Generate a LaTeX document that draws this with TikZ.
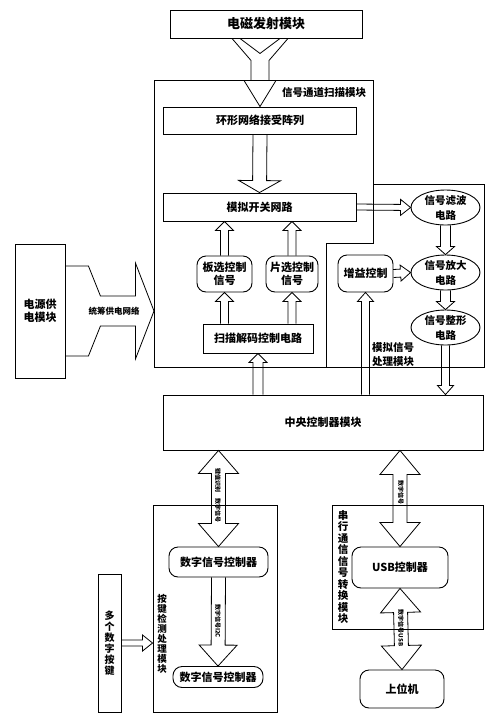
\documentclass[tikz,border=0pt]{standalone}
\usepackage{fontspec}
\setmainfont{Noto Sans CJK SC}
\usepackage{tikz}
\usetikzlibrary{calc,shapes.geometric}

\tikzset{
        box/.style={draw, line width=0.9pt, inner sep=2pt, align=center, font=\bfseries\fontsize{11}{13.5}\selectfont},
        rbox/.style={box, rounded corners=9pt},
        oval/.style={box, ellipse, inner xsep=0pt, inner ysep=-4pt, font=\bfseries\fontsize{10.5}{15}\selectfont},
        frame/.style={line width=0.9pt},
        arrowline/.style={line width=0.8pt, line join=miter},
        tag/.style={font=\bfseries\fontsize{10.5}{14}\selectfont, inner sep=0pt, align=center},
        tiny/.style={font=\bfseries\fontsize{6}{6}\selectfont, inner sep=0pt, rotate=-90},
}

\newcommand{\hollowarrow}[5]{%
        \path (#1) coordinate (ha) (#2) coordinate (hz);
        \path ($(hz)!#5!(ha)$) coordinate (hb);
        \draw[arrowline] ($(ha)!#3!90:(hz)$) -- ($(hb)!#3!90:(hz)$) -- ($(hb)!#4!90:(hz)$) -- (hz)
                -- ($(hb)!#4!-90:(hz)$) -- ($(hb)!#3!-90:(hz)$) -- ($(ha)!#3!-90:(hz)$);
}
\newcommand{\bothhollow}[5]{%
        \path (#1) coordinate (ha) (#2) coordinate (hz);
        \path ($(ha)!#5!(hz)$) coordinate (hs) ($(hz)!#5!(ha)$) coordinate (hb);
        \draw[arrowline] (ha) -- ($(hs)!#4!90:(hz)$) -- ($(hs)!#3!90:(hz)$) -- ($(hb)!#3!90:(hz)$)
                -- ($(hb)!#4!90:(hz)$) -- (hz) -- ($(hb)!#4!-90:(hz)$) -- ($(hb)!#3!-90:(hz)$)
                -- ($(hs)!#3!-90:(hz)$) -- ($(hs)!#4!-90:(hz)$) -- cycle;
}

\begin{document}
\begin{tikzpicture}[x=1pt, y=-1pt]
        \useasboundingbox (0,0) rectangle (500,721);

        % top part
        \node[box, minimum width=192pt, minimum height=28pt, font=\bfseries\fontsize{13}{15}\selectfont] (emit) at (266,24) {电磁发射模块};
        \draw[frame] (154,80) -- (373,80) -- (373,243) -- (326,243) -- (326,367) -- (154,367) -- cycle;
        \draw[frame] (373,184) -- (484,184) -- (484,367) -- (326,367);
        \node[tag] (scanlbl) at (324,93) {信号通道扫描模块};
        \node[tag, align=left] (analoglbl) at (393,355) {模拟信号\\处理模块};

        \node[box, minimum width=193pt, minimum height=27pt] (ring) at (260,120.5) {环形网络接受阵列};
        \node[box, minimum width=193pt, minimum height=28pt] (switch) at (259.5,207) {模拟开关网路};
        \node[rbox, minimum width=55pt, minimum height=36pt] (board) at (224.5,274) {板选控制\\信号};
        \node[rbox, minimum width=52pt, minimum height=36pt] (chip) at (292,274) {片选控制\\信号};
        \node[box, minimum width=110pt, minimum height=29pt] (decode) at (258,338.5) {扫描解码控制电路};
        \node[rbox, minimum width=55pt, minimum height=37pt] (gain) at (365.5,273.5) {增益控制};
        \node[oval, minimum width=69pt, minimum height=35pt] (filter) at (445.5,207.5) {信号滤波\\电路};
        \node[oval, minimum width=69pt, minimum height=35pt] (amp) at (445.5,272.5) {信号放大\\电路};
        \node[oval, minimum width=69pt, minimum height=35pt] (shaper) at (445.5,327.5) {信号整形\\电路};

        % power supply
        \node[box, minimum width=50pt, minimum height=134pt] (power) at (40,311) {电源供\\电模块};
        \coordinate (scanw) at (154,311);
        \draw[arrowline] ($(power.east)+(0,-45)$) -- ($(power.east)+(23,-45)$) -- ($(power.east)+(35,-15)$)
                -- ($(power.east)+(70,-15)$) -- ($(power.east)+(70,-48)$) -- (scanw)
                -- ($(power.east)+(70,48)$) -- ($(power.east)+(70,15)$) -- ($(power.east)+(35,15)$)
                -- ($(power.east)+(23,45)$) -- ($(power.east)+(0,45)$);
        \node[font=\bfseries\fontsize{8.5}{10}\selectfont, inner sep=0pt] (netlbl) at (114,311) {统筹供电网络};

        \node[box, minimum width=320pt, minimum height=55pt] (central) at (323,422.5) {中央控制器模块};

        % lower part
        \node[box, minimum width=124pt, minimum height=207pt] (keybox) at (215,608.5) {};
        \node[font=\bfseries\fontsize{9.5}{10}\selectfont, align=center, inner sep=0pt] (keylbl) at (162,634) {按\\键\\检\\测\\处\\理\\模\\块};
        \node[rbox, minimum width=99pt, minimum height=30pt] (dsc1) at (218.5,562) {数字信号控制器};
        \node[rbox, minimum width=90pt, minimum height=21pt] (dsc2) at (218,677) {数字信号控制器};
        \node[box, minimum width=23pt, minimum height=138pt, font=\bfseries\fontsize{10}{11}\selectfont] (keys) at (109.5,643) {多\\个\\数\\字\\按\\键};

        \node[box, minimum width=151pt, minimum height=124pt] (serialbox) at (407.5,567) {};
        \node[font=\bfseries\fontsize{10.5}{11.5}\selectfont, align=center, inner sep=0pt] (seriallbl) at (343,567) {串\\行\\通\\信\\信\\号\\转\\换\\模\\块};
        \node[rbox, minimum width=96pt, minimum height=41pt] (usb) at (400,567.5) {USB控制器};
        \node[rbox, minimum width=84pt, minimum height=38pt] (host) at (402,689) {上位机};

        % arrows
        \coordinate (ftop) at (ring.north |- emit.south);
        \draw[arrowline] ($(ftop)+(-28,0)$) -- ($(ftop)+(-9,22)$) -- ($(ftop)+(-9,42)$) -- ($(ftop)+(-16,42)$)
                -- (ring.north) -- ($(ftop)+(16,42)$) -- ($(ftop)+(9,42)$) -- ($(ftop)+(9,22)$) -- ($(ftop)+(28,0)$);
        \draw[arrowline] ($(ftop)+(-20,0)$) -- ($(ftop)+(0,15)$) -- ($(ftop)+(20,0)$);

        \hollowarrow{ring.south}{switch.north}{7pt}{21pt}{12pt}
        \hollowarrow{switch.east}{filter.west}{3pt}{8pt}{10pt}
        \foreach \n in {board,chip} {
                \hollowarrow{\n.north}{\n.north |- switch.south}{4pt}{9pt}{9pt}
                \hollowarrow{\n |- decode.north}{\n.south}{4pt}{9pt}{9pt}
        }
        \hollowarrow{filter.south}{amp.north}{5pt}{9pt}{8pt}
        \hollowarrow{amp.south}{shaper.north}{5pt}{9pt}{8pt}
        \hollowarrow{gain.east}{amp.west}{4pt}{8pt}{10pt}
        \hollowarrow{decode.south |- central.north}{decode.south}{5pt}{9pt}{9pt}
        \hollowarrow{gain.south |- central.north}{gain.south}{4pt}{8pt}{9pt}
        \hollowarrow{shaper.south}{shaper.south |- central.north}{4pt}{8pt}{9pt}
        \hollowarrow{keys.east}{keys.east -| keybox.west}{3pt}{8pt}{10pt}

        \bothhollow{dsc1.north |- central.south}{dsc1.north}{7pt}{20pt}{23pt}
        \hollowarrow{dsc1.south}{dsc2.north}{7pt}{19pt}{21pt}
        \bothhollow{usb.north |- central.south}{usb.north}{7pt}{20pt}{24pt}
        \bothhollow{usb.south}{host.north}{7pt}{20pt}{24pt}

        \node[tiny] (lbla) at (218,495) {键值识别\hspace{6pt}数字信号};
        \node[tiny] (lblb) at (218,621) {数字信号I2C};
        \node[tiny] (lblc) at (401,492) {数字信号};
        \node[tiny] (lbld) at (401,628) {数字信号USB};
\end{tikzpicture}
\end{document}
